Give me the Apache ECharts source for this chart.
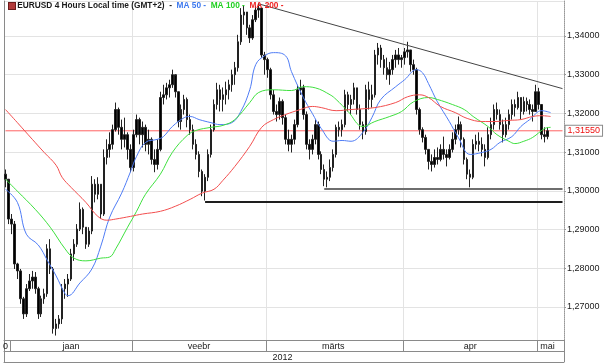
<!DOCTYPE html>
<html><head><meta charset="utf-8">
<script src="https://cdn.jsdelivr.net/npm/echarts@6/dist/echarts.min.js"></script>
<style>html,body{margin:0;padding:0;background:#fff}#c{width:605px;height:363px}</style>
</head><body><div id="c"></div>
<script>
// ---- data ----
const firstOpen = 1.3043;
const closes = [
1.3030,1.2927,1.2914,1.2811,1.2793,1.2721,1.2682,1.2747,1.2767,1.2777,
1.2747,1.2682,1.2721,1.2734,1.2850,1.2798,1.2644,1.2656,1.2669,1.2747,
1.2759,1.2772,1.2837,1.2862,1.2901,1.2952,1.2906,1.2862,1.2896,1.3017,
1.2991,1.3017,1.2940,1.3086,1.3107,1.3120,1.3158,1.3210,1.3164,1.3133,
1.3145,1.3107,1.3060,1.3145,1.3184,1.3145,1.3164,1.3120,1.3133,1.3081,
1.3068,1.3107,1.3241,1.3248,1.3266,1.3274,1.3300,1.3256,1.3179,1.3210,
1.3236,1.3184,1.3158,1.3120,1.3094,1.3050,1.2999,1.3035,1.3094,1.3158,
1.3223,1.3261,1.3236,1.3248,1.3261,1.3274,1.3300,1.3318,1.3385,1.3454,
1.3462,1.3421,1.3395,1.3442,1.3467,1.3472,1.3351,1.3339,1.3313,1.3248,
1.3205,1.3197,1.3231,1.3189,1.3133,1.3120,1.3133,1.3171,1.3261,1.3266,
1.3197,1.3120,1.3107,1.3133,1.3171,1.3094,1.3055,1.3030,1.3035,1.3060,
1.3094,1.3164,1.3158,1.3171,1.3248,1.3223,1.3236,1.3266,1.3210,1.3171,
1.3153,1.3261,1.3236,1.3248,1.3351,1.3369,1.3339,1.3318,1.3300,1.3313,
1.3339,1.3351,1.3339,1.3344,1.3359,1.3364,1.3326,1.3313,1.3210,1.3158,
1.3138,1.3107,1.3076,1.3068,1.3086,1.3081,1.3107,1.3094,1.3086,1.3107,
1.3133,1.3158,1.3171,1.3133,1.3081,1.3043,1.3035,1.3120,1.3128,1.3120,
1.3107,1.3086,1.3145,1.3171,1.3210,1.3197,1.3171,1.3145,1.3171,1.3197,
1.3223,1.3215,1.3241,1.3205,1.3231,1.3223,1.3210,1.3205,1.3256,1.3223,
1.3145,1.3140,1.3155];
const highs = [
1.3055,1.3025,1.2940,1.2922,1.2814,1.2798,1.2726,1.2759,1.2785,1.2793,
1.2790,1.2752,1.2729,1.2747,1.2862,1.2875,1.2803,1.2669,1.2679,1.2759,
1.2772,1.2785,1.2850,1.2875,1.2914,1.2970,1.2957,1.2906,1.2906,1.3038,
1.3030,1.3035,1.3017,1.3107,1.3133,1.3151,1.3171,1.3228,1.3215,1.3184,
1.3189,1.3151,1.3120,1.3158,1.3197,1.3189,1.3179,1.3171,1.3158,1.3138,
1.3107,1.3133,1.3256,1.3274,1.3279,1.3287,1.3313,1.3297,1.3256,1.3223,
1.3248,1.3241,1.3197,1.3171,1.3133,1.3102,1.3055,1.3043,1.3107,1.3171,
1.3236,1.3279,1.3274,1.3267,1.3282,1.3287,1.3313,1.3333,1.3403,1.3472,
1.3478,1.3462,1.3429,1.3454,1.3478,1.3485,1.3472,1.3359,1.3344,1.3318,
1.3261,1.3223,1.3241,1.3236,1.3197,1.3158,1.3145,1.3184,1.3274,1.3287,
1.3274,1.3205,1.3133,1.3145,1.3184,1.3179,1.3102,1.3068,1.3050,1.3081,
1.3107,1.3171,1.3179,1.3184,1.3261,1.3256,1.3248,1.3279,1.3266,1.3223,
1.3179,1.3274,1.3282,1.3274,1.3364,1.3382,1.3377,1.3351,1.3344,1.3333,
1.3351,1.3364,1.3369,1.3351,1.3369,1.3385,1.3364,1.3339,1.3318,1.3215,
1.3164,1.3145,1.3107,1.3094,1.3107,1.3112,1.3120,1.3140,1.3107,1.3120,
1.3151,1.3171,1.3192,1.3179,1.3138,1.3086,1.3055,1.3133,1.3145,1.3151,
1.3138,1.3120,1.3164,1.3189,1.3223,1.3228,1.3210,1.3184,1.3189,1.3210,
1.3236,1.3236,1.3256,1.3241,1.3243,1.3241,1.3236,1.3223,1.3274,1.3266,
1.3223,1.3164,1.3164];
const lows = [
1.3009,1.2914,1.2888,1.2798,1.2772,1.2708,1.2669,1.2674,1.2741,1.2747,
1.2734,1.2669,1.2674,1.2708,1.2726,1.2785,1.2631,1.2626,1.2644,1.2656,
1.2721,1.2726,1.2767,1.2819,1.2855,1.2896,1.2888,1.2850,1.2855,1.2888,
1.2970,1.2978,1.2927,1.2935,1.3068,1.3086,1.3107,1.3153,1.3145,1.3107,
1.3112,1.3081,1.3048,1.3050,1.3138,1.3120,1.3112,1.3102,1.3094,1.3068,
1.3048,1.3055,1.3102,1.3223,1.3236,1.3241,1.3266,1.3241,1.3164,1.3158,
1.3197,1.3164,1.3145,1.3107,1.3081,1.3035,1.2986,1.2975,1.3025,1.3086,
1.3153,1.3210,1.3205,1.3205,1.3223,1.3236,1.3256,1.3274,1.3308,1.3377,
1.3429,1.3403,1.3382,1.3390,1.3436,1.3447,1.3344,1.3300,1.3292,1.3236,
1.3197,1.3179,1.3184,1.3171,1.3120,1.3102,1.3099,1.3120,1.3164,1.3248,
1.3184,1.3107,1.3081,1.3094,1.3120,1.3081,1.3043,1.3012,1.3009,1.3025,
1.3050,1.3086,1.3140,1.3140,1.3164,1.3205,1.3197,1.3223,1.3197,1.3158,
1.3133,1.3145,1.3210,1.3215,1.3241,1.3326,1.3318,1.3300,1.3287,1.3274,
1.3300,1.3318,1.3326,1.3318,1.3326,1.3344,1.3308,1.3300,1.3197,1.3145,
1.3125,1.3094,1.3055,1.3050,1.3060,1.3068,1.3076,1.3081,1.3063,1.3081,
1.3099,1.3120,1.3145,1.3112,1.3068,1.3030,1.3009,1.3030,1.3107,1.3102,
1.3089,1.3063,1.3081,1.3133,1.3158,1.3184,1.3158,1.3125,1.3138,1.3158,
1.3184,1.3192,1.3210,1.3184,1.3197,1.3205,1.3197,1.3179,1.3205,1.3210,
1.3133,1.3125,1.3133];

// moving averages: [bar slot, value]
const ma50 = [[0,1.3004],[4,1.2970],[7,1.2888],[11,1.2860],[14,1.2821],[17,1.2780],[20,1.2734],[21,1.2729],
[25,1.2762],[29,1.2798],[32,1.2857],[35,1.2932],[39,1.2994],[42,1.3050],[44,1.3089],[47,1.3125],[51,1.3133],
[53,1.3140],[56,1.3166],[60,1.3189],[62,1.3192],[65,1.3184],[69,1.3176],[72,1.3171],[76,1.3176],[79,1.3205],
[82,1.3261],[84,1.3326],[87,1.3349],[90,1.3357],[94,1.3349],[96,1.3308],[100,1.3241],[103,1.3200],[106,1.3161],
[110,1.3128],[113,1.3130],[116,1.3128],[120,1.3151],[123,1.3189],[126,1.3236],[131,1.3269],[134,1.3287],
[138,1.3313],[140,1.3305],[142,1.3277],[145,1.3230],[149,1.3179],[152,1.3138],[156,1.3094],[160,1.3099],
[163,1.3107],[166,1.3125],[170,1.3140],[173,1.3166],[176,1.3184],[180,1.3207],[183,1.3202]];
const ma100 = [[0,1.3030],[4,1.2999],[10,1.2952],[15,1.2906],[20,1.2850],[23,1.2826],[27,1.2819],[32,1.2826],
[35,1.2829],[37,1.2850],[41,1.2906],[44,1.2947],[47,1.2991],[52,1.3043],[56,1.3099],[61,1.3143],[64,1.3156],
[69,1.3164],[73,1.3169],[77,1.3184],[82,1.3228],[85,1.3254],[90,1.3261],[96,1.3259],[100,1.3269],[104,1.3266],
[109,1.3248],[111,1.3236],[115,1.3205],[120,1.3166],[124,1.3179],[129,1.3192],[133,1.3205],[137,1.3230],
[142,1.3241],[145,1.3236],[150,1.3223],[154,1.3210],[157,1.3192],[162,1.3166],[165,1.3145],[169,1.3128],
[171,1.3122],[174,1.3128],[177,1.3138],[181,1.3161],[183,1.3164]];
const ma200 = [[0,1.3210],[4,1.3176],[9,1.3133],[13,1.3099],[17,1.3066],[19,1.3035],[22,1.3009],[27,1.2970],
[31,1.2934],[34,1.2924],[37,1.2927],[42,1.2934],[46,1.2940],[52,1.2947],[57,1.2960],[62,1.2978],[66,1.2994],
[70,1.3004],[73,1.3027],[77,1.3063],[82,1.3115],[86,1.3164],[90,1.3184],[94,1.3197],[99,1.3210],[103,1.3218],
[106,1.3215],[111,1.3207],[116,1.3210],[124,1.3215],[131,1.3228],[135,1.3243],[139,1.3248],[142,1.3241],
[146,1.3218],[151,1.3202],[155,1.3187],[160,1.3179],[164,1.3179],[169,1.3182],[173,1.3184],[177,1.3192],
[180,1.3194],[183,1.3192]];

const lastPrice = 1.3155;
const trendLine = [[85, 1.3483], [187, 1.3264]];
const supportHigh = [[107, 1.3006], [187, 1.3006]];
const supportLow = [[67, 1.2972], [187, 1.2972]];

const slotCount = 188;
const monthTickSlots = [0, 2, 43, 88, 134, 179];
const monthGridSlots = [43, 88, 134, 179];
const monthLabels = {0: '0', 22: 'jaan', 65: 'veebr', 110: 'märts', 156: 'apr', 182: 'mai'};
const yearLabels = {93: '2012'};
const yMin = 1.26145, yMax = 1.34904;

// ---- build ----
const slots = Array.from({length: slotCount}, (_, i) => String(i));
const ohlc = closes.map((c, i) => [i === 0 ? firstOpen : closes[i - 1], c, lows[i], highs[i]]);
const lastPriceLine = [[0, lastPrice], [slotCount - 1, lastPrice]];
const fmt = v => v.toFixed(5).replace('.', ',');
const FONT = 'Liberation Sans';
const axisCol = '#8a8a8a';
const TFS = 8.3;

const chart = echarts.init(document.getElementById('c'), null, {renderer: 'canvas'});
chart.setOption({
  animation: false,
  textStyle: {fontFamily: FONT},
  title: {
    left: 4, top: -3,
    text: '{ic|}{t| EURUSD 4 Hours Local time (GMT+2)  -  }{b|MA 50 -}{t|  }{g|MA 100 -}{t|  }{r|MA 200 -}',
    textStyle: {
      fontSize: TFS,
      rich: {
        ic: {width: 6, height: 6, backgroundColor: '#b23a3a', borderColor: '#6b1c1c', borderWidth: 1},
        t: {fontSize: TFS, color: '#1a1a1a', fontFamily: FONT},
        b: {fontSize: TFS, color: '#3c78ee', fontFamily: FONT},
        g: {fontSize: TFS, color: '#22d022', fontFamily: FONT},
        r: {fontSize: TFS, color: '#ee2222', fontFamily: FONT}
      }
    }
  },
  grid: {left: 0, right: 41, top: 1, bottom: 23, containLabel: false},
  xAxis: [
    {
      type: 'category', data: slots, boundaryGap: true, position: 'bottom',
      axisLine: {show: true, lineStyle: {color: axisCol, width: 1}},
      axisTick: {show: true, interval: i => monthTickSlots.includes(i), length: 11, lineStyle: {color: axisCol}},
      axisLabel: {interval: i => (i in monthLabels), formatter: (v, i) => monthLabels[i] || '',
        margin: 2, fontSize: 9, color: '#1a1a1a', fontFamily: FONT},
      splitLine: {show: true, interval: i => monthGridSlots.includes(i), lineStyle: {color: '#e3e3e3'}}
    },
    {
      type: 'category', data: slots, boundaryGap: true, position: 'bottom', offset: 11,
      axisLine: {show: true, lineStyle: {color: axisCol, width: 1}},
      axisTick: {show: true, interval: i => i === 0, length: 11, lineStyle: {color: axisCol}},
      axisLabel: {interval: i => (i in yearLabels), formatter: (v, i) => yearLabels[i] || '',
        margin: 2, fontSize: 9, color: '#1a1a1a', fontFamily: FONT},
      splitLine: {show: false}
    },
    {
      type: 'category', data: slots, boundaryGap: true, position: 'bottom', offset: 22,
      axisLine: {show: true, lineStyle: {color: axisCol, width: 1}},
      axisTick: {show: false}, axisLabel: {show: false}, splitLine: {show: false}
    }
  ],
  yAxis: [
    {
      type: 'value', position: 'right', min: yMin, max: yMax, splitNumber: 8, scale: true,
      axisLine: {show: true, lineStyle: {color: '#999', type: 'dotted'}},
      axisTick: {show: true, length: 2, lineStyle: {color: '#999'}},
      axisLabel: {showMinLabel: false, showMaxLabel: false, formatter: fmt, fontSize: 9,
        color: '#1a1a1a', margin: 3, fontFamily: FONT},
      splitLine: {show: true, lineStyle: {color: '#e3e3e3'}}
    },
    {
      type: 'value', position: 'left', min: yMin, max: yMax, scale: true,
      axisLine: {show: true, lineStyle: {color: axisCol}},
      axisTick: {show: false}, axisLabel: {show: false}, splitLine: {show: false}
    }
  ],
  series: [
    {
      type: 'line', data: lastPriceLine, symbol: 'none', z: 1, silent: true,
      lineStyle: {color: '#ff6262', width: 1},
      endLabel: {show: true, distance: 3, formatter: () => fmt(lastPrice),
        color: '#ee1111', backgroundColor: '#fff', borderColor: '#8a8a8a', borderWidth: 1,
        padding: [1, 2, 0, 2], fontSize: 9, fontFamily: FONT}
    },
    {
      type: 'candlestick', xAxisIndex: 0, yAxisIndex: 0, data: ohlc, barWidth: 2, z: 2,
      itemStyle: {color: '#000', color0: '#000', borderColor: '#222', borderColor0: '#222', borderWidth: 1},
      markLine: {
        silent: true, symbol: ['none', 'none'], animation: false, precision: 5,
        label: {show: false},
        data: [
          [{coord: trendLine[0], lineStyle: {color: '#444', width: 1, type: 'solid'}},
           {coord: trendLine[1]}],
          [{coord: supportHigh[0], lineStyle: {color: '#6e6e6e', width: 2, type: 'solid'}},
           {coord: supportHigh[1]}],
          [{coord: supportLow[0], lineStyle: {color: '#1e1e1e', width: 2, type: 'solid'}},
           {coord: supportLow[1]}]
        ]
      }
    },
    {type: 'line', data: ma50, smooth: 0.4, symbol: 'none', z: 3, lineStyle: {color: '#4f7cf5', width: 1}},
    {type: 'line', data: ma100, smooth: 0.4, symbol: 'none', z: 3, lineStyle: {color: '#3ee03e', width: 1}},
    {type: 'line', data: ma200, smooth: 0.4, symbol: 'none', z: 3, lineStyle: {color: '#f24e4e', width: 1}}
  ]
});
</script>
</body></html>
